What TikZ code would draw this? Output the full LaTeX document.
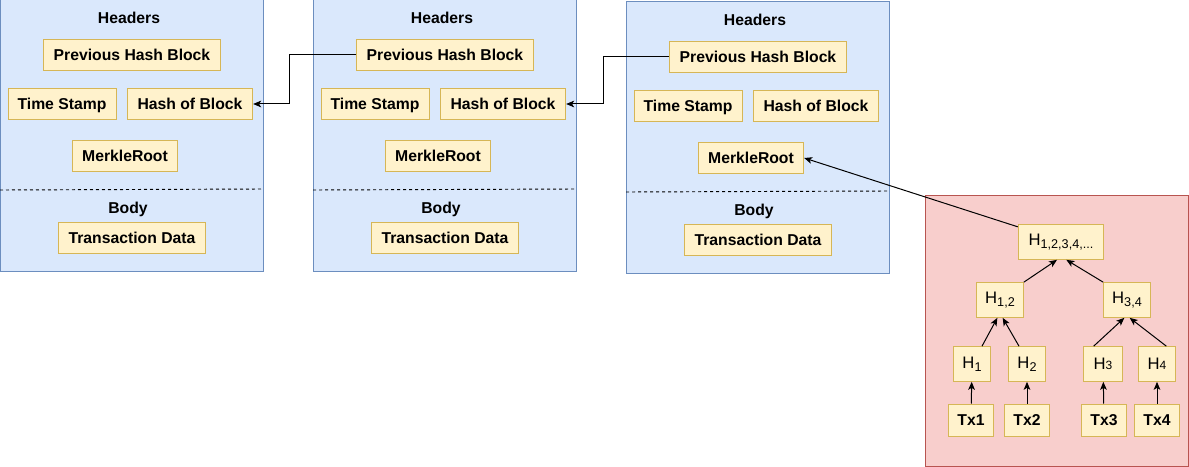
\documentclass[tikz,border=0pt]{standalone}
\usepackage{fontspec}
\setmainfont{Liberation Sans}
\usepackage{tikz}
\usetikzlibrary{arrows.meta}
\usepackage{xcolor}
\definecolor{blockfill}{HTML}{DAE8FC}
\definecolor{blockline}{HTML}{6C8EBF}
\definecolor{fieldfill}{HTML}{FFF2CC}
\definecolor{fieldline}{HTML}{D6B656}
\definecolor{treefill}{HTML}{F8CECC}
\definecolor{treeline}{HTML}{B85450}
\newcommand{\hsub}[1]{\raisebox{-0.35ex}{\fontsize{9.5}{10}\selectfont #1}}

\begin{document}
\begin{tikzpicture}[x=0.75pt,y=-0.75pt,line width=0.75pt,>={Stealth[length=6pt,width=5pt,inset=1.5pt]},
  font=\fontsize{11.8}{13}\selectfont,
  block/.style={draw=blockline,fill=blockfill},
  sep/.style={dash pattern=on 2.25pt off 2.25pt,line width=0.7pt},
  title/.style={font=\fontsize{11.8}{13}\selectfont\bfseries},
  field/.style={draw=fieldline,fill=fieldfill,minimum height=23.25pt,inner sep=0pt,
    text height=8.5pt,text depth=0pt,font=\fontsize{11.8}{13}\selectfont\bfseries},
  hash/.style={draw=fieldline,fill=fieldfill,minimum height=26pt,inner sep=0pt,
    font=\fontsize{12.5}{14}\selectfont},
  tx/.style={draw=fieldline,fill=fieldfill,minimum width=34pt,minimum height=24pt,inner sep=0pt,
    text height=8.5pt,text depth=0pt,font=\fontsize{11.8}{13}\selectfont\bfseries},
  link/.style={->,draw=black}]
\useasboundingbox (0,0) rectangle (1189,467);

% the three blocks of the chain
\foreach \b/\dx/\dy in {1/0/0,2/313/0,3/626/2} {
\begin{scope}[shift={(\dx,\dy)}]
\draw[block] (0,0) rectangle (263,271);
\draw[sep] (0,190) -- (263,189);
\node[title] (head\b) at (129,18) {Headers};
\node[field,minimum width=133pt] (prev\b) at (132,55) {Previous Hash Block};
\node[field,minimum width=81pt] (time\b) at (62,104) {Time Stamp};
\node[field,minimum width=94pt] (hash\b) at (190,104) {Hash of Block};
\node[field,minimum width=79pt] (merkle\b) at (125,156) {MerkleRoot};
\node[title] (body\b) at (128,209) {Body};
\node[field,minimum width=110pt] (data\b) at (132,238) {Transaction Data};
\end{scope}
}

% merkle tree
\draw[draw=treeline,fill=treefill] (925,195) rectangle (1188,466);
\node[hash,minimum width=64pt] (root) at (1061,242) {H\hsub{1,2,3,4,...}};
\node[hash,minimum width=35pt] (h12) at (1000,300) {H\hsub{1,2}};
\node[hash,minimum width=35pt] (h34) at (1127,300) {H\hsub{3,4}};
\node[hash,minimum width=28pt] (h1) at (972,364) {H\hsub{1}};
\node[hash,minimum width=28pt] (h2) at (1027,364) {H\hsub{2}};
\node[hash,minimum width=29pt] (h3) at (1103,364) {H{\fontsize{9}{10}\selectfont 3}};
\node[hash,minimum width=28pt] (h4) at (1157,364) {H{\fontsize{9}{10}\selectfont 4}};
\node[tx] (tx1) at (971,420) {Tx1};
\node[tx] (tx2) at (1027,420) {Tx2};
\node[tx] (tx3) at (1104,420) {Tx3};
\node[tx] (tx4) at (1157,420) {Tx4};

\foreach \i in {1,2,3,4}
  \draw[link] (tx\i) -- (h\i);
\draw[link] ([xshift=7.5pt]h1.north) -- ([xshift=-2pt]h12.south);
\draw[link] ([xshift=-6pt]h2.north) -- ([xshift=2pt]h12.south);
\draw[link] ([xshift=-7pt]h3.north) -- ([xshift=-2pt]h34.south);
\draw[link] ([xshift=7pt]h4.north) -- ([xshift=2pt]h34.south);
\draw[link] (h12.north east) -- ([xshift=-3pt]root.south);
\draw[link] (h34.north west) -- ([xshift=4pt]root.south);

% links between blocks
\draw[link] (prev2.west) -- ++(-66,0) |- (hash1.east);
\draw[link] (prev3.west) -- ++(-65,0) |- (hash2.east);
\draw[link] ([yshift=-2pt]root.north west) -- (merkle3.east);
\end{tikzpicture}
\end{document}
